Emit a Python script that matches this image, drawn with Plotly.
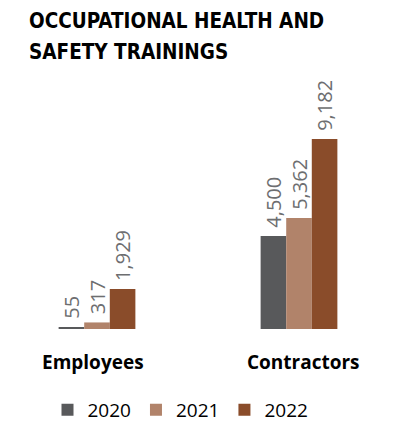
import plotly.graph_objects as go

categories = ["Employees", "Contractors"]
years = ["2020", "2021", "2022"]
values_2020 = [55, 4500]
values_2021 = [317, 5362]
values_2022 = [1929, 9182]
series = [values_2020, values_2021, values_2022]
colors = ["#58595b", "#b1836a", "#8a4c2a"]
title_lines = ["OCCUPATIONAL HEALTH AND", "SAFETY TRAININGS"]

W, H = 394, 425  # page body has an 8px margin

fig = go.Figure()
for yr, vals, col in zip(years, series, colors):
    fig.add_trace(go.Bar(
        x=categories, y=vals, name=yr,
        marker=dict(color=col, line=dict(width=0)),
        text=["\u00a0" + f"{v:,}" for v in vals],
        textposition="outside", textangle=-90, constraintext="none",
        cliponaxis=False,
        textfont=dict(family="Open Sans", size=20, color="#6d6e70"),
    ))

for line, shift in zip(title_lines, [63, 32]):
    fig.add_annotation(
        text=line,
        xref="paper", yref="paper", x=19/W, y=1, yshift=shift,
        xanchor="left", yanchor="top", align="left", showarrow=False,
        font=dict(family="DejaVu Sans Condensed, Roboto", size=20.5, color="black", weight="bold"),
    )

# category labels under each group
for cat, dx in zip(categories, [-4, 4]):
    fig.add_annotation(
        text=cat, x=cat, y=0, xref="x", yref="y",
        xanchor="center", yanchor="middle", yshift=-33, xshift=dx,
        showarrow=False,
        font=dict(family="Open Sans", size=19, color="black", weight="bold"),
    )

fig.update_layout(
    width=W, height=H,
    margin=dict(l=0, r=0, t=62, b=104),
    paper_bgcolor="white", plot_bgcolor="white",
    barmode="group", bargap=0.62, bargroupgap=0,
    xaxis=dict(
        range=[-0.4406, 1.5099], showgrid=False, zeroline=False, showline=False,
        ticks="", showticklabels=False,
    ),
    yaxis=dict(range=[0, 12517], visible=False, showgrid=False, zeroline=False),
    legend=dict(
        orientation="h", xref="container", yref="container",
        x=39.5/W, xanchor="left", y=1 - 402/H, yanchor="middle",
        font=dict(family="Open Sans", size=19, color="black"),
        traceorder="normal",
    ),
    showlegend=True,
)

fig.write_html("out.html")
